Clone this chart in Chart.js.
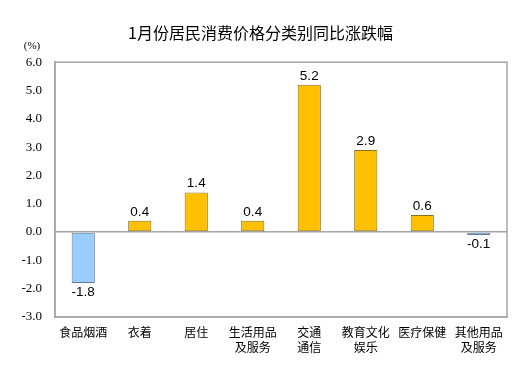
<!DOCTYPE html>
<html><head><meta charset="utf-8">
<script src="https://cdn.jsdelivr.net/npm/chart.js@4/dist/chart.umd.min.js"></script>
<style>html,body{margin:0;padding:0;background:#fff}#wrap{width:529px;height:379px}</style>
</head><body><div id="wrap"><canvas id="c" width="529" height="379"></canvas></div>
<script>
const titleText = '1月份居民消费价格分类别同比涨跌幅';
const unitLabel = '(%)';
const categories = [['食品烟酒'], ['衣着'], ['居住'], ['生活用品','及服务'], ['交通','通信'], ['教育文化','娱乐'], ['医疗保健'], ['其他用品','及服务']];
const values = [-1.8, 0.4, 1.4, 0.4, 5.2, 2.9, 0.6, -0.1];
const yMin = -3, yMax = 6, yStep = 1;

const posFill = '#FFC000', posBorder = '#8C7020';
const negFill = '#99CCFF', negBorder = '#5F7C99';
const frameColor = '#A6A6A6';

const framePlugin = {
  id: 'frame',
  afterDraw(chart) {
    const {ctx, chartArea: a} = chart;
    ctx.save();
    ctx.strokeStyle = frameColor; ctx.lineWidth = 1.5;
    ctx.strokeRect(a.left, a.top, a.right - a.left, a.bottom - a.top);
    // unit label
    ctx.fillStyle = '#000';
    ctx.font = '11px "Liberation Serif"';
    ctx.textAlign = 'center'; ctx.textBaseline = 'middle';
    ctx.fillText(unitLabel, 32, 46);
    // value labels
    const meta = chart.getDatasetMeta(0);
    ctx.font = '13.5px "Liberation Sans"';
    meta.data.forEach((bar, i) => {
      const v = values[i];
      if (v >= 0) { ctx.textBaseline = 'bottom'; ctx.fillText(v.toFixed(1), bar.x, bar.y - 2); }
      else { ctx.textBaseline = 'top'; ctx.fillText(v.toFixed(1), bar.x, bar.y + 3); }
    });
    ctx.restore();
  }
};

new Chart(document.getElementById('c'), {
  type: 'bar',
  data: {
    labels: categories,
    datasets: [{
      data: values,
      backgroundColor: values.map(v => v >= 0 ? posFill : negFill),
      borderColor: values.map(v => v >= 0 ? posBorder : negBorder),
      borderWidth: 1,
      borderSkipped: false,
      categoryPercentage: 1,
      barPercentage: 0.41
    }]
  },
  options: {
    responsive: false,
    animation: false,
    devicePixelRatio: 1,
    layout: { padding: { left: 14, right: 22, top: 0, bottom: 16 } },
    plugins: {
      legend: { display: false },
      tooltip: { enabled: false },
      title: {
        display: true, text: titleText, color: '#000',
        font: { family: '"Noto Sans CJK SC"', size: 16, weight: 'normal', lineHeight: 1.2 },
        padding: { top: 23, bottom: 20 }
      }
    },
    scales: {
      x: {
        grid: { display: false, drawTicks: false },
        border: { display: true, color: frameColor, width: 1.5 },
        ticks: { color: '#000', padding: 8, maxRotation: 0, autoSkip: false,
          font: { family: '"Noto Sans CJK SC"', size: 12, lineHeight: 1.25 } }
      },
      y: {
        min: yMin, max: yMax,
        afterFit(scale) { scale.width = 41; },
        grid: { drawTicks: false, lineWidth: 1.5,
          color: c => c.tick && c.tick.value === 0 ? frameColor : 'rgba(0,0,0,0)' },
        border: { display: true, color: frameColor, width: 1.5 },
        ticks: { stepSize: yStep, color: '#000', padding: 13,
          font: { family: '"Liberation Serif"', size: 13 },
          callback: v => Number(v).toFixed(1) }
      }
    }
  },
  plugins: [framePlugin]
});
</script></body></html>
